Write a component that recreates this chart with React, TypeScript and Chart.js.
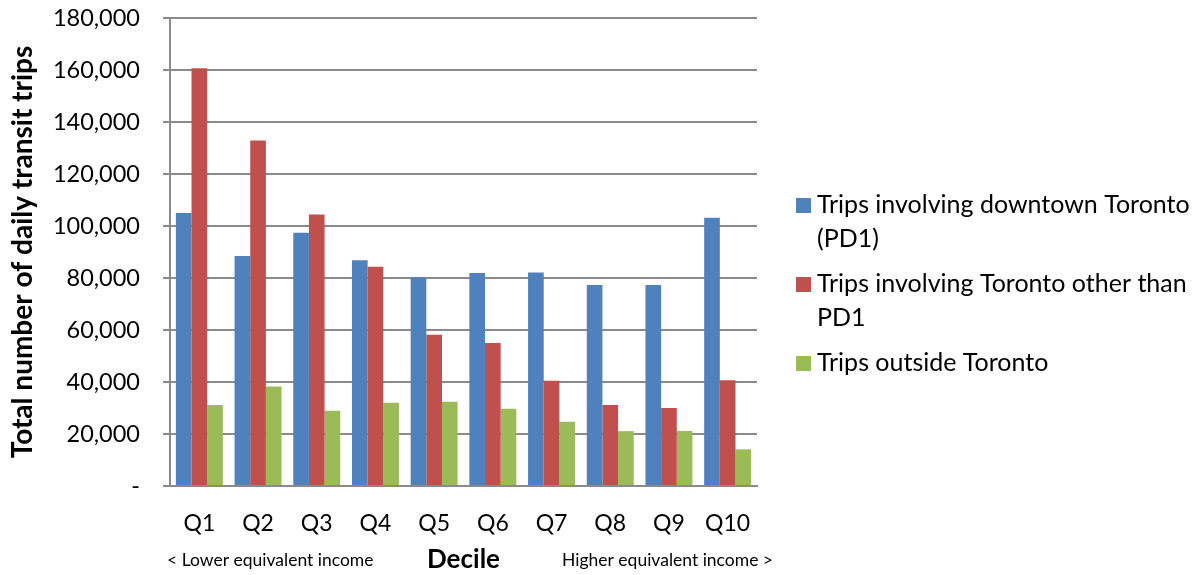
import React, { useEffect, useRef } from "react";
import { Chart, registerables } from "chart.js";

Chart.register(...registerables);

const categories = ["Q1", "Q2", "Q3", "Q4", "Q5", "Q6", "Q7", "Q8", "Q9", "Q10"];
const seriesLabels = [
  "Trips involving downtown Toronto (PD1)",
  "Trips involving Toronto other than PD1",
  "Trips outside Toronto",
];
const downtownTrips = [105000, 88500, 97400, 86800, 80300, 81900, 82100, 77300, 77300, 103200];
const otherTorontoTrips = [160700, 132900, 104400, 84300, 58200, 55000, 40500, 31200, 30000, 40700];
const outsideTrips = [31200, 38300, 28900, 32000, 32400, 29700, 24700, 21100, 21200, 14100];
const yMin = 0;
const yMax = 180000;
const yStep = 20000;
const yTitle = "Total number of daily transit trips";
const xTitle = "Decile";
const lowLabel = "< Lower equivalent income";
const highLabel = "Higher equivalent income >";

const FONT = "Lato, 'Open Sans', sans-serif";
const COLORS = ["#4F81BD", "#C0504D", "#9BBB59"];

function wrapText(ctx: CanvasRenderingContext2D, text: string, maxWidth: number): string[] {
  const words = text.split(" ");
  const lines: string[] = [];
  let cur = "";
  for (const w of words) {
    const test = cur ? cur + " " + w : w;
    if (ctx.measureText(test).width > maxWidth && cur) {
      lines.push(cur);
      cur = w;
    } else {
      cur = test;
    }
  }
  if (cur) lines.push(cur);
  return lines;
}

const extrasPlugin = {
  id: "extras",
  afterDraw(chart: any) {
    const ctx: CanvasRenderingContext2D = chart.ctx;
    const area = chart.chartArea;
    ctx.save();
    // income sub-labels
    ctx.fillStyle = "#000";
    ctx.font = `17.5px ${FONT}`;
    ctx.textBaseline = "middle";
    ctx.textAlign = "left";
    ctx.fillText(lowLabel, area.left - 3, 560);
    ctx.textAlign = "right";
    ctx.fillText(highLabel, area.right + 16, 560);

    // legend
    const lx = area.right + 39;
    const tx = lx + 21;
    const maxW = chart.width - tx - 2;
    ctx.font = `25px ${FONT}`;
    ctx.textAlign = "left";
    let y = 205;
    chart.data.datasets.forEach((ds: any, i: number) => {
      const lines = wrapText(ctx, ds.label, maxW);
      ctx.fillStyle = ds.backgroundColor;
      ctx.fillRect(lx, y - 7, 15, 15);
      ctx.fillStyle = "#000";
      lines.forEach((ln, j) => ctx.fillText(ln, tx, y + j * 34));
      y += (lines.length - 1) * 34 + 45;
    });
    ctx.restore();
  },
};

export default function App() {
  const ref = useRef<HTMLCanvasElement>(null);
  useEffect(() => {
    if (!ref.current) return;
    const chart = new Chart(ref.current, {
      type: "bar",
      data: {
        labels: categories,
        datasets: [
          { label: seriesLabels[0], data: downtownTrips, backgroundColor: COLORS[0] },
          { label: seriesLabels[1], data: otherTorontoTrips, backgroundColor: COLORS[1] },
          { label: seriesLabels[2], data: outsideTrips, backgroundColor: COLORS[2] },
        ],
      },
      options: {
        animation: false,
        responsive: true,
        maintainAspectRatio: false,
        layout: { padding: { left: 0, top: 18, right: 439, bottom: 0 } },
        datasets: { bar: { categoryPercentage: 0.8, barPercentage: 1.0 } },
        plugins: { legend: { display: false }, tooltip: { enabled: false } },
        scales: {
          x: {
            grid: { display: false },
            border: { display: true, color: "#8a8a8a", width: 2 },
            ticks: { color: "#000", font: { family: FONT, size: 23 }, padding: 16 },
            title: { display: true, text: xTitle, color: "#000", font: { family: FONT, size: 26, weight: "bold" }, padding: { top: 0, bottom: 0 } },
            afterFit: (s: any) => { s.height = 89; },
          },
          y: {
            min: yMin,
            max: yMax,
            ticks: {
              stepSize: yStep,
              color: "#000",
              font: { family: FONT, size: 23.5 },
              padding: 23,
              callback: (v: any) => (Number(v) === 0 ? "-" : Number(v).toLocaleString("en-US")),
            },
            grid: { color: "#8a8a8a", lineWidth: 2, drawTicks: true, tickLength: 7 },
            border: { display: true, color: "#8a8a8a", width: 2 },
            title: { display: true, text: yTitle, color: "#000", font: { family: FONT, size: 28, weight: "bold" }, padding: { top: 6, bottom: 0 } },
            afterFit: (s: any) => { s.width = 170; s.paddingTop = 0; s.paddingBottom = 0; },
          },
        },
      },
      plugins: [extrasPlugin],
    });
    return () => chart.destroy();
  }, []);
  return (
    <div style={{ position: "absolute", left: 0, top: 0, width: 1196, height: 575 }}>
      <canvas ref={ref} />
    </div>
  );
}
